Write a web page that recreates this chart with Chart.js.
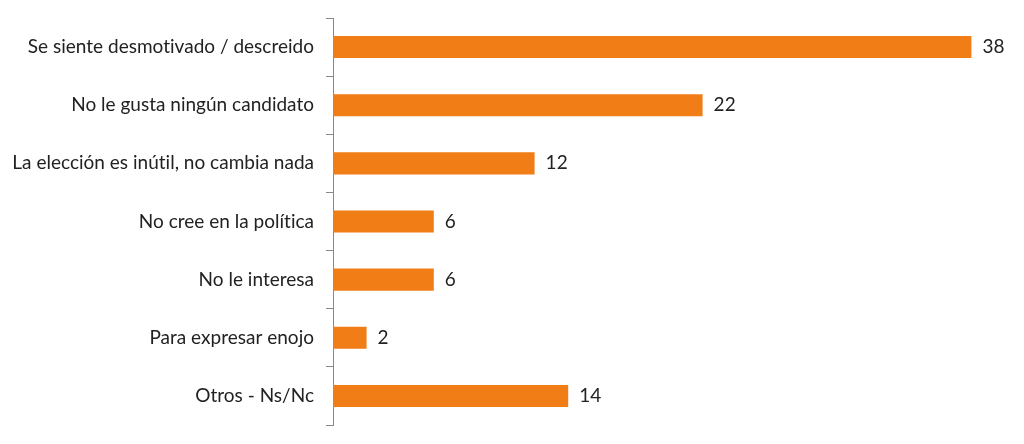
<!DOCTYPE html>
<html>
<head>
<meta charset="utf-8">
<script src="https://cdn.jsdelivr.net/npm/chart.js@4"></script>
<style>
  body { margin: 0; background: #fff; }
  canvas { display: block; }
</style>
</head>
<body>
<canvas id="chart" width="1024" height="444"></canvas>
<script>
const categories = [
    'Se siente desmotivado / descreido',
    'No le gusta ningún candidato',
    'La elección es inútil, no cambia nada',
    'No cree en la política',
    'No le interesa',
    'Para expresar enojo',
    'Otros - Ns/Nc'
];
const values = [38, 22, 12, 6, 6, 2, 14];

const fontFamily = "Lato, sans-serif";
const fontSize = 19;

// a tiny letter spacing keeps Lato from joining "ti" into a ligature
const noLigatures = {
    id: 'noLigatures',
    beforeDraw(chart) {
        chart.ctx.letterSpacing = '0.01px';
    }
};

// draw the value next to each bar
const valueLabels = {
    id: 'valueLabels',
    afterDatasetsDraw(chart) {
        const ctx = chart.ctx;
        const meta = chart.getDatasetMeta(0);
        ctx.save();
        ctx.font = fontSize + "px " + fontFamily;
        ctx.fillStyle = '#222';
        ctx.textAlign = 'left';
        ctx.textBaseline = 'middle';
        meta.data.forEach((bar, i) => {
            ctx.fillText(values[i], bar.x + 11, bar.y);
        });
        ctx.restore();
    }
};

const ctx = document.getElementById('chart').getContext('2d');
const chart = new Chart(ctx, {
    type: 'bar',
    data: {
        labels: categories,
        datasets: [{
            data: values,
            backgroundColor: '#f07d16',
            borderWidth: 0,
            barPercentage: 0.38,
            categoryPercentage: 1
        }]
    },
    options: {
        indexAxis: 'y',
        responsive: false,
        animation: false,
        layout: {
            padding: { top: 18, bottom: 19, right: 19, left: 0 }
        },
        plugins: {
            legend: { display: false },
            tooltip: { enabled: false }
        },
        scales: {
            x: {
                display: false,
                min: 0,
                max: 40
            },
            y: {
                afterFit(scale) {
                    scale.width = 333;
                },
                grid: {
                    offset: true,
                    drawOnChartArea: false,
                    tickLength: 7,
                    color: '#888'
                },
                border: { color: '#888', width: 1 },
                ticks: {
                    padding: 12,
                    color: '#222',
                    // small line height so the labels don't push the plot area in
                    font: { family: fontFamily, size: fontSize, lineHeight: 0.5 }
                }
            }
        }
    },
    plugins: [noLigatures, valueLabels]
});
</script>
</body>
</html>
